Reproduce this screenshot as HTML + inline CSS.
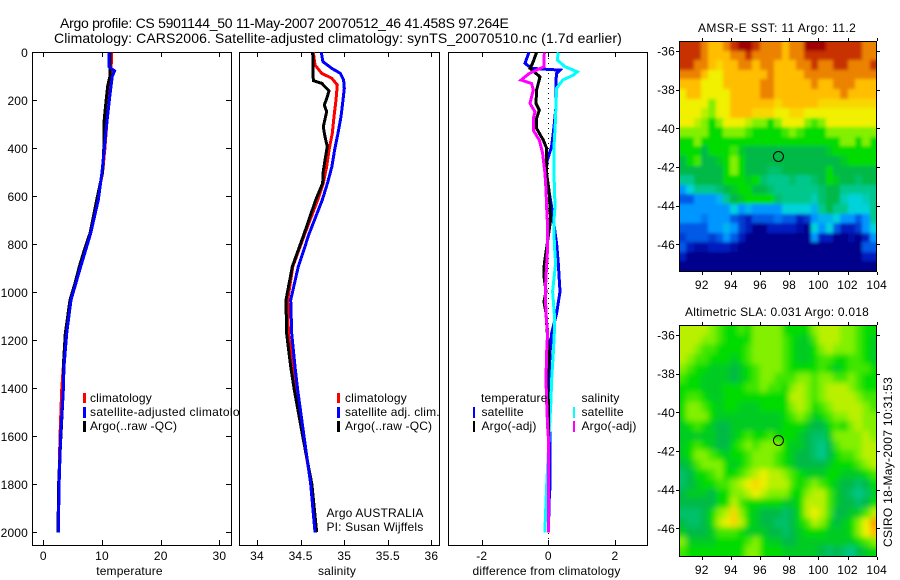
<!DOCTYPE html>
<html>
<head>
<meta charset="utf-8">
<title>Argo profile</title>
<style>
html,body{margin:0;padding:0;background:#fff;}
svg{display:block;}
text{font-family:"Liberation Sans",sans-serif;font-size:12px;fill:#000;letter-spacing:0.17px;}
.frame{fill:#fff;stroke:#000;stroke-width:1;shape-rendering:crispEdges;}
.tick{stroke:#000;stroke-width:1;shape-rendering:crispEdges;}
.curve{fill:none;stroke-width:3;stroke-linejoin:miter;shape-rendering:crispEdges;}
.cell{shape-rendering:crispEdges;}
.bar{shape-rendering:crispEdges;}
</style>
</head>
<body>
<svg id="figure" xmlns="http://www.w3.org/2000/svg" width="900" height="580" viewBox="0 0 900 580">
  <defs>
    <filter id="blur-sst" x="-10%" y="-10%" width="120%" height="120%"><feGaussianBlur stdDeviation="1.6"/></filter>
    <filter id="blur-sla" x="-10%" y="-10%" width="120%" height="120%"><feGaussianBlur stdDeviation="3"/></filter>
    <clipPath id="clip-sst"><rect x="679" y="41" width="198" height="230"/></clipPath>
    <clipPath id="clip-sla"><rect x="679" y="325" width="198" height="231"/></clipPath>
  </defs>
  <rect x="0" y="0" width="900" height="580" fill="#fff"/>
  <text x="60" y="28" style="font-size:14px" textLength="449" lengthAdjust="spacing">Argo profile: CS 5901144_50 11-May-2007 20070512_46 41.458S 97.264E</text>
  <text x="54" y="43" style="font-size:14px" textLength="568" lengthAdjust="spacing">Climatology: CARS2006. Satellite-adjusted climatology: synTS_20070510.nc (1.7d earlier)</text>

  <g id="panel-t">
    <rect class="frame" x="32.5" y="52.5" width="199" height="493"/>
  </g>
  <g>
    <rect class="bar" x="83" y="393" width="3" height="10" fill="#f00"/>
    <text x="90" y="402">climatology</text>
    <rect class="bar" x="83" y="407" width="3" height="11" fill="#00f"/>
    <text x="90" y="416" textLength="163" lengthAdjust="spacing">satellite-adjusted climatology</text>
    <rect class="bar" x="83" y="421" width="3" height="11" fill="#000"/>
    <text x="90" y="430">Argo(..raw -QC)</text>
  </g>
  <text x="129.5" y="575" text-anchor="middle">temperature</text>

  <g id="panel-s">
    <rect class="frame" x="239.5" y="52.5" width="200" height="493"/>
  </g>
  <g>
    <rect class="bar" x="337" y="393" width="3" height="10" fill="#f00"/>
    <text x="345" y="402">climatology</text>
    <rect class="bar" x="337" y="407" width="3" height="11" fill="#00f"/>
    <text x="345" y="416">satellite adj. clim.</text>
    <rect class="bar" x="337" y="421" width="3" height="11" fill="#000"/>
    <text x="345" y="430">Argo(..raw -QC)</text>
    <text x="326.5" y="517">Argo AUSTRALIA</text>
    <text x="326.5" y="531">PI: Susan Wijffels</text>
  </g>
  <text x="337" y="575" text-anchor="middle">salinity</text>

  <g id="panel-d">
    <rect class="frame" x="448.5" y="52.5" width="199" height="493"/>
  </g>
  <g>
    <text x="481" y="402">temperature</text>
    <rect class="bar" x="473" y="407" width="2" height="11" fill="#00f"/>
    <text x="481.5" y="416">satellite</text>
    <rect class="bar" x="473" y="421" width="2" height="11" fill="#000"/>
    <text x="481.5" y="430">Argo(-adj)</text>
    <text x="581.5" y="402">salinity</text>
    <rect class="bar" x="573" y="407" width="2" height="11" fill="#0ff"/>
    <text x="581.5" y="416">satellite</text>
    <rect class="bar" x="573" y="421" width="2" height="11" fill="#f0f"/>
    <text x="581.5" y="430">Argo(-adj)</text>
  </g>
  <text x="546.5" y="575" text-anchor="middle" textLength="148" lengthAdjust="spacing">difference from climatology</text>

  <text x="777" y="32" text-anchor="middle" textLength="158" lengthAdjust="spacing">AMSR-E SST: 11  Argo: 11.2</text>
  <g id="map-sst"></g>
  <text x="777" y="316" text-anchor="middle" textLength="184" lengthAdjust="spacing">Altimetric SLA: 0.031  Argo: 0.018</text>
  <g id="map-sla"></g>
  <text x="892" y="547" transform="rotate(-90 892 547)" textLength="170" lengthAdjust="spacing">CSIRO 18-May-2007 10:31:53</text>
</svg>

<script>
// ---------- Profile data ----------
const depthTicks = [0, 200, 400, 600, 800, 1000, 1200, 1400, 1600, 1800, 2000];
const tempTicks = [0, 10, 20, 30];
const salTicks = [34, 34.5, 35, 35.5, 36];
const salTickLabels = ['34', '34.5', '35', '35.5', '36'];
const diffTicks = [-2, 0, 2];

const tempClimDepth = [0, 100, 200, 300, 400, 500, 615, 754, 893, 1032, 1171, 1310, 1407, 1600, 1800, 2000];
const tempClimValue = [11.65, 11.5, 11.2, 10.8, 10.5, 10.1, 9.2, 8.07, 6.33, 4.67, 3.9, 3.4, 3.13, 2.85, 2.65, 2.5];
const tempArgoDepth = [0, 100, 140, 200, 300, 400, 500, 615, 754, 824, 893, 962, 1032, 1171, 1310, 1407, 1600, 1800, 2000];
const tempArgoValue = [11.35, 11.35, 10.97, 10.7, 10.3, 10.3, 10.1, 9.09, 7.96, 6.99, 6.13, 5.4, 4.55, 3.75, 3.41, 3.41, 3.0, 2.6, 2.5];
const tempSatDepth = [0, 60, 70, 78, 100, 200, 300, 400, 500, 615, 754, 893, 1032, 1171, 1310, 1407, 1600, 1800, 2000];
const tempSatValue = [11.2, 11.2, 11.7, 12.15, 11.75, 11.25, 10.8, 10.4, 10.0, 9.37, 8.07, 6.37, 4.72, 3.99, 3.53, 3.41, 2.95, 2.7, 2.55];

const salClimDepth = [0, 53, 88, 108, 136, 199, 268, 337, 407, 476, 545, 615, 754, 893, 1032, 1171, 1310, 1407, 1600, 1800, 2000];
const salClimValue = [34.646, 34.665, 34.742, 34.857, 34.921, 34.906, 34.883, 34.864, 34.826, 34.799, 34.76, 34.696, 34.55, 34.41, 34.352, 34.36, 34.41, 34.447, 34.527, 34.62, 34.685];
const salArgoDepth = [0, 118, 129, 160, 185, 220, 247, 310, 352, 393, 449, 504, 545, 615, 754, 893, 1032, 1171, 1310, 1407, 1600, 1800, 2000];
const salArgoValue = [34.639, 34.646, 34.742, 34.826, 34.806, 34.772, 34.799, 34.76, 34.78, 34.806, 34.78, 34.757, 34.753, 34.673, 34.543, 34.405, 34.333, 34.34, 34.386, 34.428, 34.524, 34.63, 34.685];
const salSatDepth = [0, 39, 67, 88, 115, 150, 199, 268, 337, 407, 476, 545, 615, 754, 893, 1032, 1171, 1310, 1407, 1600, 1800, 2000];
const salSatValue = [34.737, 34.756, 34.859, 34.955, 34.993, 35.001, 34.986, 34.963, 34.929, 34.89, 34.859, 34.809, 34.749, 34.6, 34.474, 34.386, 34.398, 34.436, 34.467, 34.539, 34.616, 34.665];

const diffTempSatDepth = [0, 46, 67, 74, 88, 116, 227, 310, 393, 449, 505, 560, 643, 699, 796, 880, 997, 1088, 1171, 1254, 1365, 1449, 1602, 1810, 1852, 2000];
const diffTempSatValue = [-0.58, -0.70, -0.50, 0.35, 0.25, 0.23, 0.23, 0.17, 0.10, -0.03, -0.07, 0, 0.10, 0.15, 0.25, 0.30, 0.35, 0.25, 0.10, 0.05, 0.02, 0, 0.05, 0.05, 0.03, 0];
const diffSalSatDepth = [0, 32, 60, 81, 95, 116, 150, 296, 393, 505, 643, 699, 796, 880, 997, 1088, 1171, 1254, 1365, 1449, 1602, 1727, 1810, 1949, 2000];
const diffSalSatValue = [0.30, 0.27, 0.50, 0.87, 0.75, 0.43, 0.25, 0.21, 0.17, 0.17, 0.20, 0.17, 0.18, 0.22, 0.13, 0.18, 0.18, 0.15, 0.10, 0.08, 0.02, -0.02, -0.05, -0.09, -0.10];
const diffTempArgoDepth = [0, 46, 67, 102, 157, 213, 241, 275, 317, 366, 400, 449, 505, 574, 643, 699, 796, 880, 935, 997, 1039, 1088, 1171, 1254, 1365, 1449, 1602, 2000];
const diffTempArgoValue = [-0.35, -0.47, -0.55, -0.25, -0.35, -0.37, -0.27, -0.35, -0.35, -0.15, -0.05, -0.05, -0.05, 0.02, 0.05, 0.07, -0.03, -0.12, -0.13, -0.07, -0.13, -0.07, -0.03, 0.02, -0.03, 0, 0, 0];
const diffSalArgoDepth = [0, 60, 88, 116, 130, 157, 213, 248, 275, 324, 366, 421, 505, 574, 643, 699, 838, 935, 997, 1088, 1171, 1254, 1365, 1449, 1560, 1602, 1782, 2000];
const diffSalArgoValue = [-0.12, -0.13, -0.57, -0.82, -0.50, -0.45, -0.55, -0.40, -0.45, -0.45, -0.27, -0.17, -0.10, -0.07, -0.05, -0.03, -0.03, -0.07, -0.09, -0.07, -0.02, -0.05, -0.07, -0.05, -0.02, 0, 0.01, 0];

// ---------- Map data (colour-scale level per cell, 27 columns x 24 rows) ----------
const mapLonTicks = [92, 94, 96, 98, 100, 102, 104];
const mapLatTicks = [-36, -38, -40, -42, -44, -46];
const floatLon = 97.264;
const floatLat = -41.458;

const sstGrid = [
[12,12,12,11,10,10,11,12,13,13,12,11,11,11,10,11,11,13,13,13,12,12,12,12,12,11,11],
[12,12,12,11,10,10,10,11,11,12,11,11,11,11,10,11,11,12,12,12,12,12,12,12,12,11,11],
[12,12,11,11,10,9.5,10,10,11,11,10,11,11,10,10,10,11,11,12,11,11,12,12,11,11,11,12],
[11,11,11,10,9,9,10,10,10,10,10,10,11,10,10,10,10,11,11,11,11,11,11,11,11,11,11],
[10,10,10,9,9,9,10,10,10,10,10,11,11,10,10,10,10,10,11,10,10,11,11,11,10,10,10],
[9,10,10,9,9,9,9,10,10,10,10,11,11,10,10,10,10,10,10,10,10,10,11,10,10,10,10],
[9,9,9,9,8,9,9,10,10,10,10,10,10,9.5,10,10,10,10,10,9.5,9.5,9.5,9.5,9.5,9.5,9.5,9.5],
[9,9,9,8.5,8,9,9,10,10,10,9.5,9.5,9.5,9,9,9.5,9.5,9,9,9,9,9,9,9,9,9,9],
[9,9,8.5,8,7,8,9,9,9,8.5,8,8,7,8,9,9,9,8,7.5,8,9,9,9,9,9,9,9],
[8,8,8,8,7,7,8,8,8,7.5,7,7,7,7,7.5,8,7.5,7,7,7,8,8,8,8,8,8,8],
[7,7,8,7,7,7,7,7,7,7,7,7,7,7,7,7,7,7,7,7,7,7,8,8,7,8,7],
[7,7,7,6,7,7,7,7.5,6.5,6,6,6,6,6,6,6,6,6,6,6,6.5,7,7,7,7,7,7],
[6,7,7.5,6,6,6.5,7,8,7,6,6,6,6,6,6,6,6,6,6,6,6,6,6.5,7,7,7,7],
[6,6,6,6,6,6,7,8,7,6,6,6,5.5,5.5,6,6,6,6,6,6,7,6,6,6,6,6,6],
[5,5,6,6,6,6,7,7,7,6.5,7,5.5,5,5,5,5.5,5,5,5.5,6,7,6.5,6,6,5.5,6,6],
[3,4,5,5,5,5.5,6,6.5,7,7,6,6,5.5,5,5,5,5,5,5,5.5,6,6,5,5,5,5,5],
[2,2,3,3,3,3.5,5,6,6.5,7,7,7,7,5.5,5,5,5,5,4.5,5.5,6,6,4.5,4,4,4.5,5],
[3,3,3,3,3,3,3,4,3,3.5,3,3,3,3,4,4,4,4,3.5,5,6,5,5,4,4,4,5],
[3,3,3,2.5,3,3,3,2,1.5,1,2,2,2,2.5,2,2,1,1.5,3,3.5,3.5,4,3,3,2,3,5],
[2,2,2,2,3,3,3.5,3,1.5,1,0,0,1,1,1,1,0.5,0,4,3,4,2,1,1,1.5,3,4],
[1.5,2,2,2,1.5,2,3,2,1,0,0,0,0,0,0,0,0,0,3,1,1,0,0,0.5,0,1,3],
[2,1,0.5,0.5,1,1,1,0.5,0,0,0,0,0,0,0,0,0,0,0,0,0,0,0,0,0,2,2],
[1,0,0,0,0,0,0,0,0,0,0,0,0,0,0,0,0,0,0,0,0,0,0,0,0,1,1],
[0,0,0,0,0,0,0,0,0,0,0,0,0,0,0,0,0,0,0,0,0,0,0,0,0,0,0]
];

const slaGrid = [
[8.5,8.5,8.5,8.5,8,7.5,7,7,7.5,7,8,8,8,8,7,7,7,7,8,8.5,8.5,8.5,8,8,7.5,7,7],
[8.5,8.5,8.5,8,8,7.5,7,7,7,7,8,8,8,8,7.5,7,6.5,6.5,7.5,8.5,8.5,8.5,8,8,7.5,7,6.5],
[8.5,8.5,8,7.5,7.5,7,7,7,7,7.5,8,8,8,8,7.5,7,6.5,6.5,7,8,8.5,8,8,8,7.5,7,6.5],
[8.5,8,7.5,7.5,7,7,7,6.5,7,7.5,8,8,8,8,7.5,7,6.5,6.5,7,7.5,7.5,7,7,7.5,7.5,7,6.5],
[8,7.5,7,7,6.5,6.5,6.5,6,6.5,7,7.5,8,8,8,7.5,7,7,7,7,7.5,7,6.5,7,7.5,7.5,7.5,7],
[7.5,7,7,6.5,6.5,6.5,6.5,6,6.5,7,7.5,8,8,7.5,7.5,7.5,8,8,7.5,8,8,7.5,7.5,8,7.5,7,7],
[7,7,7,6.5,6.5,6.5,7,7,7,7.5,7.5,8,7.5,7.5,7,8,8.5,8,7.5,8,8.5,8.5,8.5,8,7.5,7,7],
[7,7.5,7.5,7,6.5,6.5,7,7,7,7,7,7,7,7,7,8.5,8.5,8,7.5,8,8.5,8.5,8.5,8.5,8,7.5,7.5],
[7,8,8,7.5,7,6.5,7,7,6.5,6.5,6.5,7,7,7,7,8,8.5,8,7,7.5,8,8.5,8.5,8.5,8.5,8,7.5],
[7,8,8,8,7,6.5,6.5,6.5,6.5,6.5,6.5,6.5,6.5,6.5,7,7.5,8,7.5,6.5,7,7.5,8,8,8.5,8.5,8,8],
[6.5,7,7.5,7,6.5,6,6,6.5,6.5,6.5,6.5,6.5,6.5,6.5,7,7,7,6.5,6,6,7,7.5,7,8,8.5,8,8],
[6.5,6.5,6.5,6.5,6.5,6,6,6.5,7,7.5,7,7,7.5,7,7,7,6.5,6,5.5,5.5,6.5,8,8,8,8,8.5,8],
[6.5,7,7.5,7,6.5,6,6,7,7.5,8,7.5,8,8,8,7,6.5,6.5,6,5.5,5,6,7.5,8,8,8,8.5,8.5],
[6.5,7,8,8,7.5,7,6.5,7,7,7.5,8,8,8,7.5,7,6.5,6,6,5.5,5,6,7,7.5,7.5,8,8.5,8.5],
[6,6.5,7.5,8,8,8,7,6.5,7,7.5,8,8,8,7.5,7,6.5,6,6,6,6,6.5,7,7,7,7.5,8,8.5],
[5.5,6,7,7,7.5,8,7,7,7.5,8,8.5,9,8.5,8.5,8,7.5,7,6.5,6.5,6.5,7,7,6.5,6.5,6.5,7,7.5],
[5.5,6,6.5,7,7,7.5,7.5,8,8.5,9,9.5,9,8.5,8.5,8.5,7.5,7,7.5,8,7.5,7,6.5,6,6,5.5,6,7],
[6,6.5,6.5,6.5,6,7,7,8,8,8.5,9,8.5,8,8,8,7,7,8,8.5,8.5,7.5,6.5,6,5.5,5,5.5,6.5],
[6,6,6,6,6,7,7,8.5,7.5,7,7,7,7,7,6.5,6.5,7,8.5,8.5,8.5,7.5,6.5,6,6,5.5,6,7],
[5.5,5.5,5.5,6,7,8,8.5,9.5,8,7,6.5,6,6,6,5.5,6,7,8.5,9,8.5,7.5,6,6,6.5,6.5,7.5,8.5],
[6,5.5,5.5,6,7,8.5,9,9.5,8.5,7,6.5,6,6,5.5,5.5,6,7,7.5,8.5,8,7,6,6.5,7,8,9,10.5],
[6.5,6,6,6,6.5,7.5,7.5,7.5,7,6.5,6.5,6.5,6,6,5.5,6,6.5,7,7,7,6.5,6.5,6.5,7,8,9,10],
[8,6.5,6.5,6.5,6.5,7,7,7,7,7.5,8,7,6.5,6.5,6,6,6.5,6.5,6.5,6.5,6.5,6.5,6.5,6.5,7,7.5,8],
[7.5,7,7,7,7,7,7,7,7,8,8,7,7,7,6.5,6.5,6.5,6.5,6.5,6,5.5,6,5.5,5,6,6.5,7]
];

// ---------- Helpers ----------
const SVGNS = 'http://www.w3.org/2000/svg';
function make(tag, attrs, parent) {
  const el = document.createElementNS(SVGNS, tag);
  for (const k in attrs) el.setAttribute(k, attrs[k]);
  parent.appendChild(el);
  return el;
}
const colorStops = [
  [0,0,140],[0,30,190],[0,90,230],[0,150,255],[0,210,220],[0,200,140],[0,185,70],
  [0,220,0],[130,240,0],[240,240,0],[255,190,0],[235,130,0],[200,50,0],[160,0,0]
];
function levelColor(v) {
  const t = Math.max(0, Math.min(colorStops.length - 1, v));
  const i = Math.min(colorStops.length - 2, Math.floor(t));
  const f = t - i;
  const c = [0,1,2].map(k => Math.round(colorStops[i][k] + (colorStops[i+1][k] - colorStops[i][k]) * f));
  return 'rgb(' + c.join(',') + ')';
}

// ---------- Axis functions ----------
const depthY = d => 52.3 + d * 0.24;
const tempX = t => 43.3 + t * 5.87;
const salX = s => 257 + (s - 34) * 87.2;
const diffX = v => 548.3 + v * 33.3;

function drawCurve(parent, xFn, depths, values, color, width, name) {
  const pts = depths.map((d, i) => xFn(values[i]).toFixed(1) + ',' + depthY(d).toFixed(1));
  const line = make('polyline', {points: pts.join(' '), class: 'curve', stroke: color, 'stroke-width': width}, parent);
  
  
}
function drawXTicks(parent, xFn, ticks, labels, name) {
  ticks.forEach((t, i) => {
    const x = Math.round(xFn(t)) + 0.5;
    const top = make('line', {x1: x, x2: x, y1: 52, y2: 57, class: 'tick'}, parent);
    
    
    const bottom = make('line', {x1: x, x2: x, y1: 540, y2: 545, class: 'tick'}, parent);
    
    
    const label = make('text', {x: xFn(t), y: 560, 'text-anchor': 'middle'}, parent);
    
    
    label.textContent = labels[i];
  });
}

// ---------- Temperature panel ----------
const panelT = document.getElementById('panel-t');
depthTicks.forEach(d => {
  const y = Math.round(depthY(d)) + 0.5;
  const left = make('line', {x1: 32, x2: 37, y1: y, y2: y, class: 'tick'}, panelT);
  
  
  const right = make('line', {x1: 226, x2: 231, y1: y, y2: y, class: 'tick'}, panelT);
  
  
  const label = make('text', {x: 28, y: depthY(d) + 4.5, 'text-anchor': 'end'}, panelT);
  
  
  label.textContent = d;
});
drawXTicks(panelT, tempX, tempTicks, tempTicks, 'temperature');
drawCurve(panelT, tempX, tempClimDepth, tempClimValue, '#f00', 3, 'temperature-climatology-line');
drawCurve(panelT, tempX, tempArgoDepth, tempArgoValue, '#000', 3, 'temperature-argo-line');
drawCurve(panelT, tempX, tempSatDepth, tempSatValue, '#00f', 3, 'temperature-satellite-line');

// ---------- Salinity panel ----------
const panelS = document.getElementById('panel-s');
drawXTicks(panelS, salX, salTicks, salTickLabels, 'salinity');
drawCurve(panelS, salX, salClimDepth, salClimValue, '#f00', 3, 'salinity-climatology-line');
drawCurve(panelS, salX, salArgoDepth, salArgoValue, '#000', 3, 'salinity-argo-line');
drawCurve(panelS, salX, salSatDepth, salSatValue, '#00f', 3, 'salinity-satellite-line');

// ---------- Difference panel ----------
const panelD = document.getElementById('panel-d');
drawXTicks(panelD, diffX, diffTicks, diffTicks, 'difference');
const zeroLine = make('line', {x1: diffX(0), x2: diffX(0), y1: 53, y2: 545, stroke: '#000', 'stroke-width': 1, 'stroke-dasharray': '1 4', 'shape-rendering': 'crispEdges'}, panelD);


drawCurve(panelD, diffX, diffTempSatDepth, diffTempSatValue, '#00f', 2.5, 'difference-temperature-satellite-line');
drawCurve(panelD, diffX, diffSalSatDepth, diffSalSatValue, '#0ff', 2.5, 'difference-salinity-satellite-line');
drawCurve(panelD, diffX, diffTempArgoDepth, diffTempArgoValue, '#000', 2.5, 'difference-temperature-argo-line');
drawCurve(panelD, diffX, diffSalArgoDepth, diffSalArgoValue, '#f0f', 2.5, 'difference-salinity-argo-line');

// ---------- Maps ----------
function drawMap(parent, grid, top, bottom, lat36Y, name, clipId, blurId) {
  const left = 679, right = 877, bleed = 14;
  const lonX = lon => 701.7 + (lon - 92) * 14.58;
  const latY = lat => lat36Y + (-36 - lat) * 19.33;
  const rows = grid.length;
  const clipGroup = make('g', {'clip-path': 'url(#' + clipId + ')'}, parent);
  
  
  const cellGroup = make('g', {filter: 'url(#' + blurId + ')'}, clipGroup);
  
  
  grid.forEach((row, r) => {
    const y0 = r === 0 ? top - bleed : Math.round(top + (bottom - top) * r / rows);
    const y1 = r === rows - 1 ? bottom + bleed : Math.round(top + (bottom - top) * (r + 1) / rows);
    row.forEach((v, c) => {
      const x0 = c === 0 ? left - bleed : Math.round(left + (right - left) * c / row.length);
      const x1 = c === row.length - 1 ? right + bleed : Math.round(left + (right - left) * (c + 1) / row.length);
      const cell = make('rect', {x: x0, y: y0, width: x1 - x0, height: y1 - y0, fill: levelColor(v), class: 'cell'}, cellGroup);
      
      
    });
  });
  const frame = make('rect', {x: left + 0.5, y: top + 0.5, width: right - left - 1, height: bottom - top, fill: 'none', stroke: '#000', 'shape-rendering': 'crispEdges'}, parent);
  
  
  mapLonTicks.forEach(lon => {
    const x = Math.round(lonX(lon)) + 0.5;
    const t1 = make('line', {x1: x, x2: x, y1: top - 3, y2: top, class: 'tick'}, parent);
    
    
    const t2 = make('line', {x1: x, x2: x, y1: bottom + 1, y2: bottom + 4, class: 'tick'}, parent);
    
    
    const label = make('text', {x: lonX(lon), y: bottom + 18, 'text-anchor': 'middle'}, parent);
    
    
    label.textContent = lon;
  });
  mapLatTicks.forEach(lat => {
    const y = Math.round(latY(lat)) + 0.5;
    const t1 = make('line', {x1: left - 3, x2: left, y1: y, y2: y, class: 'tick'}, parent);
    
    
    const t2 = make('line', {x1: right, x2: right + 3, y1: y, y2: y, class: 'tick'}, parent);
    
    
    const label = make('text', {x: 675, y: latY(lat) + 4.5, 'text-anchor': 'end'}, parent);
    
    
    label.textContent = lat;
  });
  const marker = make('circle', {cx: lonX(floatLon), cy: latY(floatLat), r: 5, fill: 'none', stroke: '#000', 'stroke-width': 1}, parent);
  
  
}
drawMap(document.getElementById('map-sst'), sstGrid, 41, 271, 51, 'sst-map', 'clip-sst', 'blur-sst');
drawMap(document.getElementById('map-sla'), slaGrid, 325, 556, 335, 'sla-map', 'clip-sla', 'blur-sla');
</script>
</body>
</html>
